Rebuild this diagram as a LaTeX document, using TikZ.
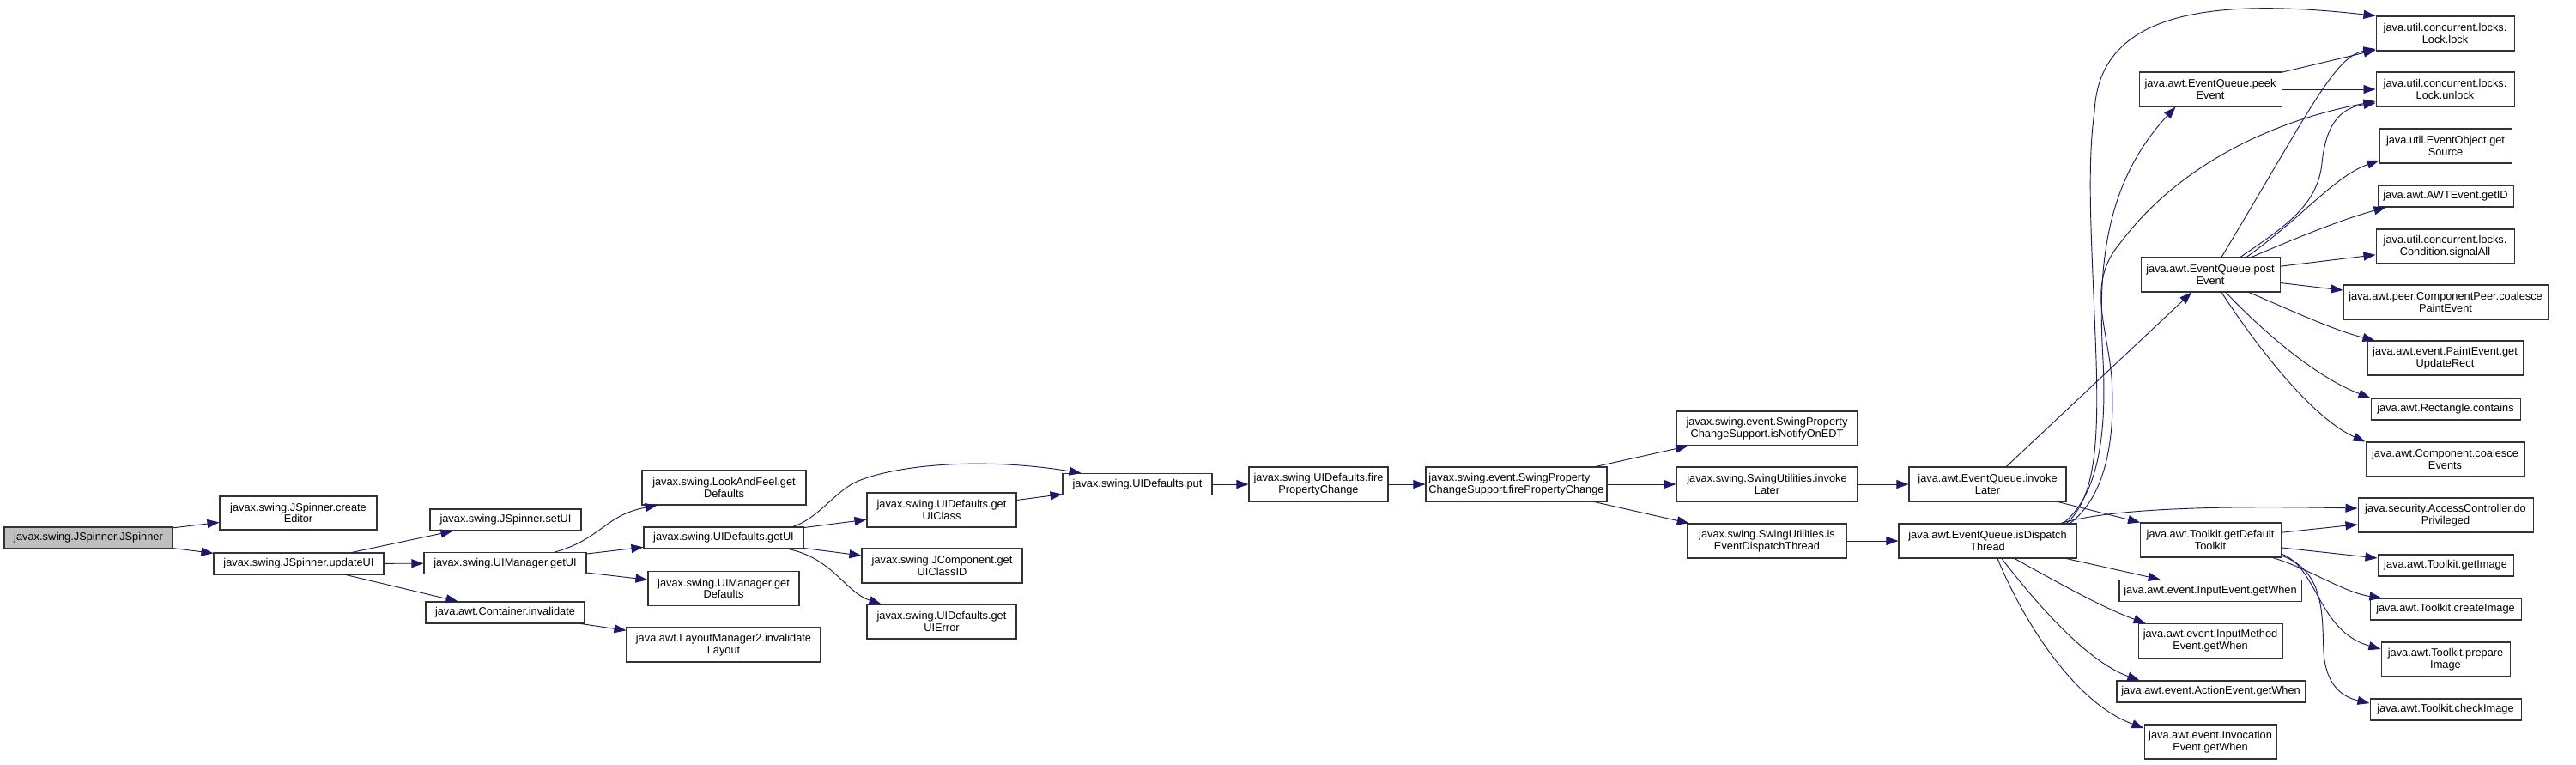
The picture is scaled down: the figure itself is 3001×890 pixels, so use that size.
\documentclass[tikz,border=0pt]{standalone}
\usepackage{fontspec}
\setmainfont{Liberation Sans}
\usetikzlibrary{arrows.meta,calc}
\definecolor{edgecol}{HTML}{191970}
\definecolor{rootfill}{HTML}{BFBFBF}
\definecolor{boxline}{HTML}{333333}
\begin{document}
\begin{tikzpicture}[x=0.75pt,y=-0.75pt,
  fn/.style={draw=boxline, line width=0.8pt, fill=white, rectangle, inner sep=0pt, align=center,
    font=\fontsize{9.6}{10.3}\selectfont},
  wh/.style 2 args={minimum width=#1*0.75pt, minimum height=#2*0.75pt},
  call/.style={draw=edgecol, line width=0.7pt, -{Triangle[length=10.5pt,width=7.5pt]}},
]
\useasboundingbox (0,0) rectangle (3001,890);

% column 0-1
\node[fn, wh={196}{25}, fill=rootfill] (root) at (103,626.5) {javax.swing.JSpinner.JSpinner};
\node[fn, wh={183}{39}] (ced) at (347.5,597.5) {javax.swing.JSpinner.create\\Editor};
\node[fn, wh={198}{25}] (upd) at (348,656.5) {javax.swing.JSpinner.updateUI};
% column 2
\node[fn, wh={176}{25}] (setui) at (589,605.5) {javax.swing.JSpinner.setUI};
\node[fn, wh={189}{25}] (umgetui) at (588.5,656) {javax.swing.UIManager.getUI};
\node[fn, wh={185}{25}] (cinv) at (588.5,713.5) {java.awt.Container.invalidate};
% column 3
\node[fn, wh={191}{40}] (lafdef) at (843.5,568) {javax.swing.LookAndFeel.get\\Defaults};
\node[fn, wh={186}{25}] (udgetui) at (843,626.5) {javax.swing.UIDefaults.getUI};
\node[fn, wh={176}{40}] (umdef) at (843,685.5) {javax.swing.UIManager.get\\Defaults};
\node[fn, wh={226}{40}] (lm2) at (843,751) {java.awt.LayoutManager2.invalidate\\Layout};
% column 4
\node[fn, wh={174}{40}] (uiclass) at (1097,594) {javax.swing.UIDefaults.get\\UIClass};
\node[fn, wh={187}{40}] (classid) at (1097.5,659) {javax.swing.JComponent.get\\UIClassID};
\node[fn, wh={174}{40}] (uierror) at (1097,724) {javax.swing.UIDefaults.get\\UIError};
% column 5-7
\node[fn, wh={174}{25}] (put) at (1325,564) {javax.swing.UIDefaults.put};
\node[fn, wh={162}{40}] (udfire) at (1536,564) {javax.swing.UIDefaults.fire\\PropertyChange};
\node[fn, wh={211}{40}, align=left] (spcsfire) at (1766.5,564) {javax.swing.event.SwingProperty\\ChangeSupport.firePropertyChange};
% column 8
\node[fn, wh={211}{40}] (notify) at (2058.5,499) {javax.swing.event.SwingProperty\\ChangeSupport.isNotifyOnEDT};
\node[fn, wh={211}{40}] (suinv) at (2058.5,564) {javax.swing.SwingUtilities.invoke\\Later};
\node[fn, wh={185}{40}] (suedt) at (2058.5,630) {javax.swing.SwingUtilities.is\\EventDispatchThread};
% column 9
\node[fn, wh={183}{40}] (eqinv) at (2315.5,564) {java.awt.EventQueue.invoke\\Later};
\node[fn, wh={207}{40}] (eqdt) at (2315.5,630) {java.awt.EventQueue.isDispatch\\Thread};
% column 10
\node[fn, wh={166}{40}] (peek) at (2575,104) {java.awt.EventQueue.peek\\Event};
\node[fn, wh={162}{40}] (post) at (2575,320) {java.awt.EventQueue.post\\Event};
\node[fn, wh={164}{40}] (tk) at (2575,629) {java.awt.Toolkit.getDefault\\Toolkit};
\node[fn, wh={212}{25}] (iew) at (2575,688) {java.awt.event.InputEvent.getWhen};
\node[fn, wh={168}{40}] (imew) at (2575,746.5) {java.awt.event.InputMethod\\Event.getWhen};
\node[fn, wh={219}{25}] (aew) at (2575.5,805.5) {java.awt.event.ActionEvent.getWhen};
\node[fn, wh={154}{40}] (invw) at (2575,864) {java.awt.event.Invocation\\Event.getWhen};
% column 11
\node[fn, wh={161}{40}] (lock) at (2848.5,39) {java.util.concurrent.locks.\\Lock.lock};
\node[fn, wh={161}{40}] (unlock) at (2848.5,104) {java.util.concurrent.locks.\\Lock.unlock};
\node[fn, wh={154}{40}] (src) at (2849,170) {java.util.EventObject.get\\Source};
\node[fn, wh={158}{25}] (getid) at (2849,228.5) {java.awt.AWTEvent.getID};
\node[fn, wh={161}{40}] (signal) at (2848.5,287) {java.util.concurrent.locks.\\Condition.signalAll};
\node[fn, wh={238}{40}] (cpeer) at (2849,352) {java.awt.peer.ComponentPeer.coalesce\\PaintEvent};
\node[fn, wh={181}{40}] (rect) at (2848.5,417) {java.awt.event.PaintEvent.get\\UpdateRect};
\node[fn, wh={174}{25}] (rcont) at (2849,476.5) {java.awt.Rectangle.contains};
\node[fn, wh={185}{40}] (ccoal) at (2848.5,535) {java.awt.Component.coalesce\\Events};
\node[fn, wh={204}{40}] (dopriv) at (2849,600) {java.security.AccessController.do\\Privileged};
\node[fn, wh={158}{25}] (gimg) at (2849,658.5) {java.awt.Toolkit.getImage};
\node[fn, wh={176}{25}] (cimg) at (2849,709.5) {java.awt.Toolkit.createImage};
\node[fn, wh={150}{40}] (pimg) at (2849,768) {java.awt.Toolkit.prepare\\Image};
\node[fn, wh={176}{25}] (chimg) at (2849,826.5) {java.awt.Toolkit.checkImage};

% straight edges
\draw[call] (root) -- (ced);
\draw[call] (root) -- (upd);
\draw[call] (upd) -- (setui);
\draw[call] (upd) -- (umgetui);
\draw[call] (upd) -- (cinv);
\draw[call] (umgetui) -- (udgetui);
\draw[call] (umgetui) -- (umdef);
\draw[call] (cinv) -- (lm2);
\draw[call] (udgetui) -- (uiclass);
\draw[call] (udgetui) -- (classid);
\draw[call] (uiclass) -- (put);
\draw[call] (put) -- (udfire);
\draw[call] (udfire) -- (spcsfire);
\draw[call] (spcsfire) -- (notify);
\draw[call] (spcsfire) -- (suinv);
\draw[call] (spcsfire) -- (suedt);
\draw[call] (suinv) -- (eqinv);
\draw[call] (suedt) -- (eqdt);
\draw[call] (eqinv) -- (post);
\draw[call] (eqinv) -- (tk);
\draw[call] (eqdt) -- (iew);
\draw[call] (peek) -- (lock);
\draw[call] (peek) -- (unlock);
\draw[call] (post) -- (signal);
\draw[call] (post) -- (cpeer);
\draw[call] (tk) -- (dopriv);
\draw[call] (tk) -- (gimg);

% curved edges
\draw[call] ($(umgetui.north)+(58,0)$) .. controls (700,628) and (705,600) .. ($(lafdef.south)+(-78,0)$);
\draw[call] ($(udgetui.north east)+(-13,0)$) .. controls (955,603) and (972,572) .. (1000,560)
   .. controls (1050,540) and (1150,533) .. ($(put.north west)+(22,0)$);
\draw[call] ($(udgetui.south east)+(-18,0)$) .. controls (970,650) and (985,690) .. ($(uierror.north west)+(17,0)$);

\draw[call] ($(eqdt.north east)+(-12,0)$) .. controls (2440,580) and (2445,520) .. (2442,420)
   .. controls (2438,300) and (2430,200) .. (2440,130)
   .. controls (2445,20) and (2560,-5) .. (lock.north west);
\draw[call] ($(eqdt.north east)+(-16,0)$) .. controls (2440,580) and (2455,520) .. (2450,420)
   .. controls (2445,330) and (2445,220) .. ($(peek.south west)+(43,0)$);
\draw[call] ($(eqdt.north east)+(-8,0)$) .. controls (2450,580) and (2465,520) .. (2460,440)
   .. controls (2455,380) and (2430,330) .. (2470,283)
   .. controls (2540,190) and (2650,140) .. ($(unlock.west)+(0,14)$);
\draw[call] ($(eqdt.north east)+(-19,0)$) .. controls (2450,595) and (2550,588) .. ($(dopriv.west)+(0,-8)$);
\draw[call] ($(eqdt.south)+(31.5,0)$) .. controls (2400,680) and (2450,708) .. ($(imew.north west)+(9,0)$);
\draw[call] ($(eqdt.south)+(16.5,0)$) .. controls (2370,700) and (2430,770) .. ($(aew.north west)+(27,0)$);
\draw[call] ($(eqdt.south)+(11.5,0)$) .. controls (2360,730) and (2420,820) .. ($(invw.west)+(0,-16)$);

\draw[call] ($(post.north)+(13,0)$) .. controls (2690,130) and (2720,65) .. ($(lock.west)+(0,18)$);
\draw[call] ($(post.north)+(35,0)$) .. controls (2660,265) and (2700,240) .. (2705,190)
   .. controls (2710,140) and (2730,125) .. ($(unlock.west)+(0,16)$);
\draw[call] ($(post.north)+(42,0)$) .. controls (2680,255) and (2720,205) .. ($(src.west)+(0,17)$);
\draw[call] ($(post.north)+(48,0)$) .. controls (2680,275) and (2730,255) .. ($(getid.south west)+(10,0)$);
\draw[call] ($(post.south)+(45,0)$) .. controls (2670,362) and (2720,385) .. ($(rect.north west)+(9,0)$);
\draw[call] ($(post.south)+(18,0)$) .. controls (2640,390) and (2700,440) .. (rcont.north west);
\draw[call] ($(post.south)+(13,0)$) .. controls (2640,420) and (2700,490) .. (ccoal.north west);

\draw[call] ($(tk.south east)+(-10,0)$) .. controls (2690,662) and (2730,690) .. ($(cimg.north west)+(14,0)$);
\draw[call] ($(tk.east)+(0,16)$) .. controls (2700,660) and (2700,735) .. ($(pimg.west)+(0,-12)$);
\draw[call] ($(tk.east)+(0,18)$) .. controls (2710,665) and (2705,720) .. (2707,760)
   .. controls (2710,800) and (2730,812) .. ($(chimg.west)+(0,-7.5)$);
\end{tikzpicture}
\end{document}
